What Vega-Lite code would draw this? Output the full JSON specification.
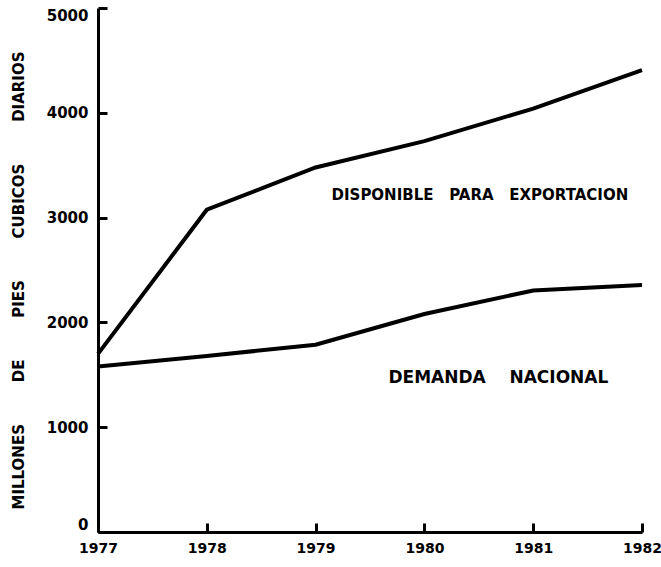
{
  "$schema": "https://vega.github.io/schema/vega-lite/v6.json",
  "width": 544,
  "height": 524,
  "autosize": "none",
  "padding": {"left": 98, "top": 8, "right": 19, "bottom": 35},
  "background": "white",
  "config": {
    "view": {"stroke": null},
    "font": "DejaVu Sans"
  },
  "datasets": {
    "series": [
      {"serie": "Disponible", "year": 1977, "value": 1700},
      {"serie": "Disponible", "year": 1978, "value": 3075},
      {"serie": "Disponible", "year": 1979, "value": 3478},
      {"serie": "Disponible", "year": 1980, "value": 3730},
      {"serie": "Disponible", "year": 1981, "value": 4040},
      {"serie": "Disponible", "year": 1982, "value": 4408},
      {"serie": "Demanda", "year": 1977, "value": 1580},
      {"serie": "Demanda", "year": 1978, "value": 1680},
      {"serie": "Demanda", "year": 1979, "value": 1787},
      {"serie": "Demanda", "year": 1980, "value": 2080},
      {"serie": "Demanda", "year": 1981, "value": 2305},
      {"serie": "Demanda", "year": 1982, "value": 2357}
    ],
    "labels": [
      {"label": "DISPONIBLE\u00a0\u00a0\u00a0PARA\u00a0\u00a0\u00a0EXPORTACION", "size": "a", "year": 1980.51, "value": 3220},
      {"label": "DEMANDA\u00a0\u00a0\u00a0\u00a0NACIONAL", "size": "b", "year": 1980.68, "value": 1470}
    ]
  },
  "layer": [
    {
      "data": {"name": "series"},
      "mark": {"type": "line", "color": "black", "strokeWidth": 4, "strokeJoin": "miter"},
      "encoding": {
        "x": {
          "field": "year", "type": "quantitative",
          "scale": {"domain": [1977, 1982], "nice": false, "zero": false},
          "axis": {
            "title": null, "values": [1977, 1978, 1979, 1980, 1981, 1982], "format": "d",
            "grid": false, "domainColor": "black", "domainWidth": 3, "labelFlush": false,
            "ticks": true, "tickColor": "black", "tickWidth": 3, "tickSize": -9, "labelPadding": 18,
            "labelFont": "DejaVu Sans", "labelFontWeight": "bold", "labelFontSize": 14, "labelColor": "black"
          }
        },
        "y": {
          "field": "value", "type": "quantitative",
          "scale": {"domain": [0, 5000], "nice": false},
          "axis": {
            "title": "MILLONES\u00a0\u00a0\u00a0\u00a0\u00a0\u00a0\u00a0\u00a0DE\u00a0\u00a0\u00a0\u00a0\u00a0\u00a0\u00a0\u00a0PIES\u00a0\u00a0\u00a0\u00a0\u00a0\u00a0\u00a0\u00a0CUBICOS\u00a0\u00a0\u00a0\u00a0\u00a0\u00a0\u00a0\u00a0DIARIOS",
            "titleFont": "DejaVu Sans", "titleFontWeight": "bold", "titleFontSize": 15, "titleColor": "black",
            "titlePadding": 20, "titleY": 272,
            "values": [0, 1000, 2000, 3000, 4000, 5000], "format": "d",
            "grid": false, "domainColor": "black", "domainWidth": 3, "labelFlush": true, "labelFlushOffset": 0,
            "ticks": true, "tickColor": "black", "tickWidth": 3, "tickSize": -9, "labelPadding": 19,
            "labelFont": "DejaVu Sans", "labelFontWeight": "bold", "labelFontSize": 15, "labelColor": "black"
          }
        },
        "detail": {"field": "serie"}
      }
    },
    {
      "data": {"name": "labels"},
      "transform": [{"filter": "datum.size == 'a'"}],
      "mark": {"type": "text", "font": "DejaVu Sans", "fontWeight": "bold", "fontSize": 15, "color": "black", "align": "center", "baseline": "middle"},
      "encoding": {
        "x": {"field": "year", "type": "quantitative"},
        "y": {"field": "value", "type": "quantitative"},
        "text": {"field": "label"}
      }
    },
    {
      "data": {"name": "labels"},
      "transform": [{"filter": "datum.size == 'b'"}],
      "mark": {"type": "text", "font": "DejaVu Sans", "fontWeight": "bold", "fontSize": 17, "color": "black", "align": "center", "baseline": "middle"},
      "encoding": {
        "x": {"field": "year", "type": "quantitative"},
        "y": {"field": "value", "type": "quantitative"},
        "text": {"field": "label"}
      }
    }
  ]
}
